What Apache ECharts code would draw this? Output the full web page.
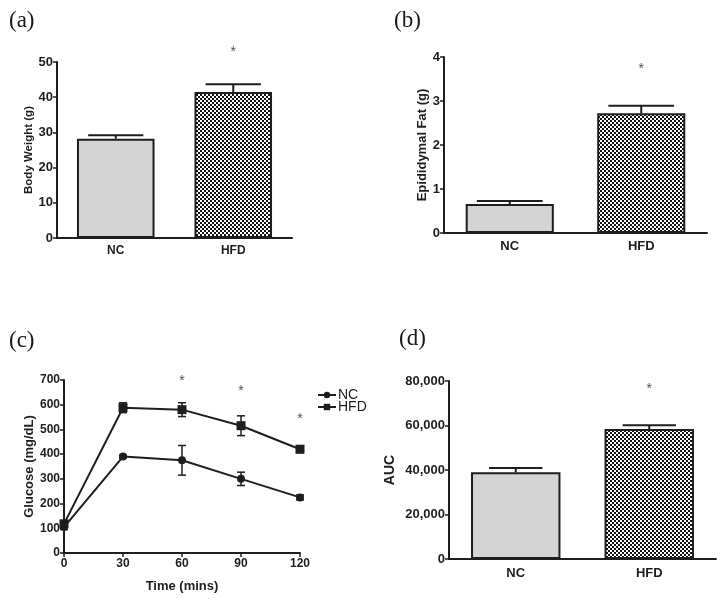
<!DOCTYPE html>
<html><head><meta charset="utf-8">
<script src="https://cdn.jsdelivr.net/npm/echarts@6/dist/echarts.min.js"></script>
<style>html,body{margin:0;padding:0;background:#fff}#c{width:727px;height:599px}</style>
</head><body><div id="c"></div><script>
// ---- data ----
const categories = ['NC', 'HFD'];
const bodyWeight = [28.2, 41.5];
const bodyWeightErr = [1.0, 2.2];
const bodyWeightStar = [['HFD', 52.8]];
const fatWeight = [0.66, 2.72];
const fatErr = [0.07, 0.17];
const fatStar = [['HFD', 3.73]];
const timePoints = [0, 30, 60, 90, 120];
const glucoseNC = [105, 390, 375, 300, 225];
const glucoseNCErr = [10, 6, 60, 27, 10];
const glucoseHFD = [118, 588, 580, 515, 420];
const glucoseHFDErr = [12, 20, 28, 40, 14];
const glucoseStars = [[60, 695], [90, 655], [120, 540]];
const aucValues = [38960, 58400];
const aucErr = [1900, 1700];
const aucStar = [['HFD', 76400]];
const panelLabels = ['(a)', '(b)', '(c)', '(d)'];
const axisA = [0, 50, 10];
const axisB = [0, 4, 1];
const axisC = [0, 700, 100];
const axisCx = [0, 120, 30];
const axisD = [0, 80000, 20000];

// ---- pattern ----
const pc = document.createElement('canvas');
pc.width = 4; pc.height = 4;
const pctx = pc.getContext('2d');
pctx.fillStyle = '#141414'; pctx.fillRect(0, 0, 4, 4);
pctx.fillStyle = '#ffffff'; pctx.fillRect(0, 0, 2, 2); pctx.fillRect(2, 2, 2, 2);
const checker = { image: pc, repeat: 'repeat' };

const INK = '#1e1e1e';
const SANS = '"Liberation Sans", Arial, sans-serif';

function fmtThousands(v) { return String(v).replace(/\B(?=(\d{3})+(?!\d))/g, ','); }

function upperErr(capFrac) {
  return function (params, api) {
    const x = api.value(0), v = api.value(1), e = api.value(2);
    const p0 = api.coord([x, v]);
    const p1 = api.coord([x, v + e]);
    const half = api.size([1, 0])[0] * capFrac / 2;
    const st = { stroke: INK, lineWidth: 2 };
    return { type: 'group', children: [
      { type: 'line', shape: { x1: p0[0], y1: p0[1], x2: p1[0], y2: p1[1] }, style: st },
      { type: 'line', shape: { x1: p1[0] - half, y1: p1[1], x2: p1[0] + half, y2: p1[1] }, style: st }
    ] };
  };
}
function bothErr(params, api) {
  const x = api.value(0), v = api.value(1), e = api.value(2);
  const pt = api.coord([x, v + e]);
  const pb = api.coord([x, v - e]);
  const half = 4;
  const st = { stroke: INK, lineWidth: 1.5 };
  return { type: 'group', children: [
    { type: 'line', shape: { x1: pt[0], y1: pt[1], x2: pb[0], y2: pb[1] }, style: st },
    { type: 'line', shape: { x1: pt[0] - half, y1: pt[1], x2: pt[0] + half, y2: pt[1] }, style: st },
    { type: 'line', shape: { x1: pb[0] - half, y1: pb[1], x2: pb[0] + half, y2: pb[1] }, style: st }
  ] };
}

function catAxis(idx, fs, margin) {
  return { type: 'category', gridIndex: idx, data: categories,
    axisLine: { lineStyle: { color: INK, width: 2 } }, axisTick: { show: false },
    axisLabel: { color: INK, fontFamily: SANS, fontWeight: 'bold', fontSize: fs, margin: margin } };
}
function valAxis(idx, rng, name, nameFs, nameGap, fs, fmt) {
  return { type: 'value', gridIndex: idx, min: rng[0], max: rng[1], interval: rng[2],
    name: name, nameLocation: 'middle', nameGap: nameGap,
    nameTextStyle: { color: INK, fontFamily: SANS, fontWeight: 'bold', fontSize: nameFs },
    splitLine: { show: false },
    axisLine: { show: true, lineStyle: { color: INK, width: 2 } },
    axisTick: { show: true, length: 4, lineStyle: { color: INK, width: 1.5 } },
    axisLabel: { color: INK, fontFamily: SANS, fontWeight: 'bold', fontSize: fs, margin: 4, formatter: fmt } };
}
function barSeries(idx, vals, pat, bw) {
  return { type: 'bar', xAxisIndex: idx, yAxisIndex: idx, barWidth: bw,
    data: vals.map((v, i) => ({ value: v, itemStyle: { color: i === 0 ? '#d4d4d4' : pat } })),
    itemStyle: { borderColor: INK, borderWidth: 2 }, silent: true };
}
function errSeries(idx, vals, errs, cap) {
  return { type: 'custom', xAxisIndex: idx, yAxisIndex: idx, renderItem: upperErr(cap), clip: false,
    data: vals.map((v, i) => [i, v, errs[i]]), z: 5, silent: true };
}
function starSeries(idx, pts) {
  return { type: 'scatter', xAxisIndex: idx, yAxisIndex: idx, data: pts, symbolSize: 0, silent: true, clip: false,
    label: { show: true, position: 'inside', formatter: '*', color: INK, fontFamily: SANS, fontSize: 14 } };
}
const titleStyle = { fontFamily: '"Liberation Serif", "Times New Roman", serif', fontSize: 23, fontWeight: 'normal', color: '#1a1a1a' };

const option = {
  backgroundColor: '#fff',
  animation: false,
  title: [
    { text: panelLabels[0], left: 4, top: 4, textStyle: titleStyle },
    { text: panelLabels[1], left: 389, top: 4, textStyle: titleStyle },
    { text: panelLabels[2], left: 4, top: 324, textStyle: titleStyle },
    { text: panelLabels[3], left: 394, top: 322, textStyle: titleStyle }
  ],
  legend: [
    { data: [{ name: 'NC' }], left: 312, top: 383, itemWidth: 18, itemHeight: 8, itemGap: 0,
      textStyle: { fontFamily: SANS, fontSize: 14, color: INK, padding: [0, 0, 0, -3] } },
    { data: [{ name: 'HFD' }], left: 312, top: 395, itemWidth: 18, itemHeight: 8, itemGap: 0,
      textStyle: { fontFamily: SANS, fontSize: 14, color: INK, padding: [0, 0, 0, -3] } }
  ],
  grid: [
    { left: 57, top: 62, width: 235, height: 176, outerBoundsMode: 'none' },
    { left: 444, top: 57, width: 263, height: 176, outerBoundsMode: 'none' },
    { left: 64, top: 380, width: 236, height: 173, outerBoundsMode: 'none' },
    { left: 449, top: 381, width: 267, height: 178, outerBoundsMode: 'none' }
  ],
  xAxis: [
    catAxis(0, 12, 7),
    catAxis(1, 13, 7),
    { type: 'value', gridIndex: 2, min: axisCx[0], max: axisCx[1], interval: axisCx[2],
      name: 'Time (mins)', nameLocation: 'middle', nameGap: 27,
      nameTextStyle: { color: INK, fontFamily: SANS, fontWeight: 'bold', fontSize: 13 },
      splitLine: { show: false },
      axisLine: { lineStyle: { color: INK, width: 2 } },
      axisTick: { show: true, length: 4, lineStyle: { color: INK, width: 1.5 } },
      axisLabel: { color: INK, fontFamily: SANS, fontWeight: 'bold', fontSize: 12, margin: 5 } },
    catAxis(3, 13, 8)
  ],
  yAxis: [
    valAxis(0, axisA, 'Body Weight (g)', 11.5, 22, 13),
    valAxis(1, axisB, 'Epididymal Fat (g)', 13, 12, 13),
    valAxis(2, axisC, 'Glucose (mg/dL)', 13, 28, 12),
    valAxis(3, axisD, 'AUC', 14, 52, 13, fmtThousands)
  ],
  series: [
    barSeries(0, bodyWeight, checker, '66%'),
    errSeries(0, bodyWeight, bodyWeightErr, 0.47),
    starSeries(0, bodyWeightStar),
    barSeries(1, fatWeight, checker, '67%'),
    errSeries(1, fatWeight, fatErr, 0.5),
    starSeries(1, fatStar),
    { name: 'NC', type: 'line', xAxisIndex: 2, yAxisIndex: 2,
      data: timePoints.map((t, i) => [t, glucoseNC[i]]),
      symbol: 'circle', symbolSize: 8, showSymbol: true, clip: false,
      lineStyle: { color: INK, width: 2 }, itemStyle: { color: INK }, z: 3 },
    { name: 'HFD', type: 'line', xAxisIndex: 2, yAxisIndex: 2,
      data: timePoints.map((t, i) => [t, glucoseHFD[i]]),
      symbol: 'rect', symbolSize: 9, showSymbol: true, clip: false,
      lineStyle: { color: INK, width: 2 }, itemStyle: { color: INK }, z: 3 },
    { type: 'custom', xAxisIndex: 2, yAxisIndex: 2, renderItem: bothErr, clip: false,
      data: timePoints.map((t, i) => [t, glucoseNC[i], glucoseNCErr[i]]), z: 4, silent: true },
    { type: 'custom', xAxisIndex: 2, yAxisIndex: 2, renderItem: bothErr, clip: false,
      data: timePoints.map((t, i) => [t, glucoseHFD[i], glucoseHFDErr[i]]), z: 4, silent: true },
    starSeries(2, glucoseStars),
    barSeries(3, aucValues, checker, '67%'),
    errSeries(3, aucValues, aucErr, 0.4),
    starSeries(3, aucStar)
  ]
};
const chart = echarts.init(document.getElementById('c'), null, { renderer: 'canvas' });
chart.setOption(option);
</script></body></html>
